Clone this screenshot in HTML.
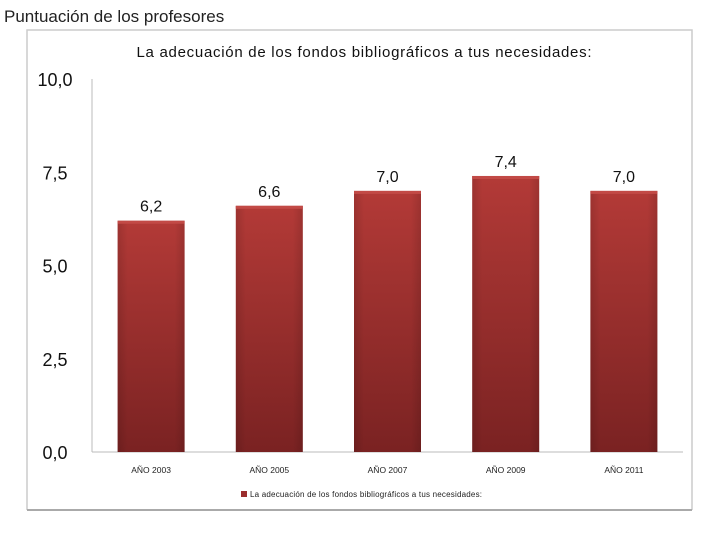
<!DOCTYPE html>
<html><head><meta charset="utf-8"><style>
body{margin:0;width:720px;height:540px;background:#fff;overflow:hidden;font-family:"Liberation Sans",sans-serif}
</style></head><body>
<svg width="720" height="540" xmlns="http://www.w3.org/2000/svg">
<defs><linearGradient id="g" x1="0" y1="0" x2="0" y2="1"><stop offset="0" stop-color="#b33a37"/><stop offset="1" stop-color="#7a2222"/></linearGradient>
<linearGradient id="gh" x1="0" y1="0" x2="1" y2="0"><stop offset="0" stop-color="#000" stop-opacity="0.12"/><stop offset="0.15" stop-color="#000" stop-opacity="0"/><stop offset="0.85" stop-color="#000" stop-opacity="0"/><stop offset="1" stop-color="#000" stop-opacity="0.12"/></linearGradient></defs>
<text x="4" y="22" font-size="17" fill="#222">Puntuación de los profesores</text>
<polyline points="27,510 27,30 692,30 692,510" fill="none" stroke="#ccc" stroke-width="1.5"/>
<line x1="27" y1="510" x2="692" y2="510" stroke="#aaa" stroke-width="2"/>
<text x="364" y="57" font-size="15" text-anchor="middle" fill="#111" textLength="455">La adecuación de los fondos bibliográficos a tus necesidades:</text>
<g id="axes"></g><g id="bars"></g>
<rect x="241" y="491" width="6" height="6" fill="#9b2d2d"/>
<text x="250" y="497" font-size="8" fill="#222" textLength="232">La adecuación de los fondos bibliográficos a tus necesidades:</text>
</svg>
<script>
const categories=["AÑO 2003","AÑO 2005","AÑO 2007","AÑO 2009","AÑO 2011"];
const values=[6.2,6.6,7.0,7.4,7.0];
const valueLabels=["6,2","6,6","7,0","7,4","7,0"];
const ticks=[0,2.5,5,7.5,10];
const tickLabels=["0,0","2,5","5,0","7,5","10,0"];
const NS="http://www.w3.org/2000/svg";
const x0=92,x1=683,yb=452,yt=79;
const y=v=>yb-(yb-yt)*v/10;
const band=(x1-x0)/categories.length;
const cx=i=>x0+band*(i+0.5);
function mk(t,a,p){const e=document.createElementNS(NS,t);for(const k in a)e.setAttribute(k,a[k]);p.appendChild(e);return e;}
const ax=document.getElementById('axes'),bs=document.getElementById('bars');
let l=mk('line',{x1:x0,y1:yt,x2:x0,y2:yb,stroke:'#bbb'},ax);


l=mk('line',{x1:x0,y1:yb,x2:x1,y2:yb,stroke:'#bbb'},ax);


ticks.forEach((t,i)=>{const e=mk('text',{x:55,y:y(t)+7,'font-size':18,'text-anchor':'middle',fill:'#111'},ax);e.textContent=tickLabels[i];

});
values.forEach((v,i)=>{const w=67,bx=cx(i)-w/2;
const r=mk('rect',{x:bx,y:y(v),width:w,height:yb-y(v),fill:'url(#g)'},bs);


const s=mk('rect',{x:bx,y:y(v),width:w,height:yb-y(v),fill:'url(#gh)'},bs);


const h=mk('rect',{x:bx,y:y(v),width:w,height:3,fill:'#c24a46'},bs);


const tl=mk('text',{x:cx(i),y:y(v)-9,'font-size':16,'text-anchor':'middle',fill:'#111'},bs);tl.textContent=valueLabels[i];


const c=mk('text',{x:cx(i),y:473,'font-size':8.5,'text-anchor':'middle',fill:'#222'},bs);c.textContent=categories[i];

});
</script>
</body></html>
